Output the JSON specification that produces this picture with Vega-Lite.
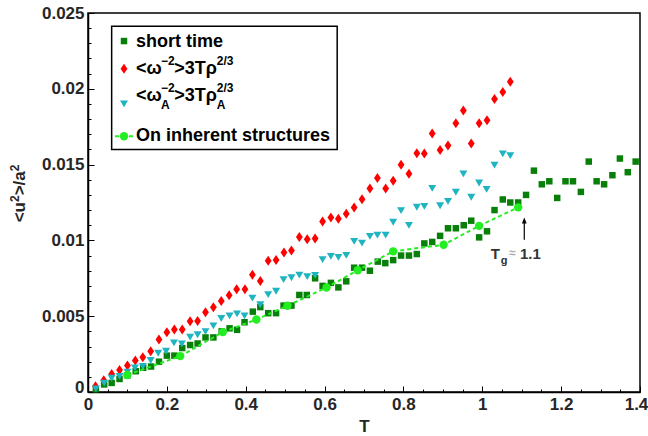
{
  "$schema": "https://vega.github.io/schema/vega-lite/v6.json",
  "width": 552,
  "height": 379,
  "autosize": {"type": "none"},
  "padding": {"left": 88, "top": 13, "right": 8, "bottom": 44},
  "background": "white",
  "config": {
    "view": {"stroke": "#000000", "strokeWidth": 1.5},
    "axis": {
      "domainColor": "#000000", "domainWidth": 1.5,
      "tickColor": "#000000", "tickWidth": 1,
      "labelFont": "Liberation Sans", "labelFontWeight": "bold", "labelFontSize": 17, "labelColor": "#262626",
      "titleFont": "Liberation Sans", "titleFontWeight": "bold", "titleFontSize": 17, "titleColor": "#262626",
      "grid": false
    }
  },
  "datasets": {
    "short": [
      {"T":0.020,"u2":0.00018},{"T":0.041,"u2":0.0005},{"T":0.060,"u2":0.0006},{"T":0.080,"u2":0.00086},{"T":0.100,"u2":0.0011},
      {"T":0.121,"u2":0.00137},{"T":0.140,"u2":0.0016},{"T":0.160,"u2":0.00168},{"T":0.180,"u2":0.0020},{"T":0.200,"u2":0.0024},
      {"T":0.219,"u2":0.0024},{"T":0.239,"u2":0.0029},{"T":0.259,"u2":0.0031},{"T":0.278,"u2":0.0032},{"T":0.298,"u2":0.0036},
      {"T":0.318,"u2":0.0036},{"T":0.339,"u2":0.0040},{"T":0.359,"u2":0.0042},{"T":0.378,"u2":0.0041},{"T":0.397,"u2":0.0046},
      {"T":0.418,"u2":0.0053},{"T":0.437,"u2":0.0056},{"T":0.457,"u2":0.0052},{"T":0.477,"u2":0.0052},{"T":0.496,"u2":0.0057},
      {"T":0.516,"u2":0.0057},{"T":0.536,"u2":0.0064},{"T":0.555,"u2":0.0064},{"T":0.576,"u2":0.0075},{"T":0.595,"u2":0.0070},
      {"T":0.616,"u2":0.0072},{"T":0.635,"u2":0.0069},{"T":0.655,"u2":0.0073},{"T":0.675,"u2":0.0082},{"T":0.695,"u2":0.0082},
      {"T":0.715,"u2":0.0080},{"T":0.735,"u2":0.0086},{"T":0.754,"u2":0.0085},{"T":0.774,"u2":0.0087},{"T":0.794,"u2":0.0090},
      {"T":0.814,"u2":0.0090},{"T":0.834,"u2":0.0091},{"T":0.853,"u2":0.0098},{"T":0.873,"u2":0.0099},{"T":0.893,"u2":0.0103},
      {"T":0.913,"u2":0.0108},{"T":0.933,"u2":0.0108},{"T":0.953,"u2":0.0110},{"T":0.972,"u2":0.0113},{"T":0.992,"u2":0.0102},
      {"T":1.012,"u2":0.0106},{"T":1.031,"u2":0.0120},{"T":1.052,"u2":0.0127},{"T":1.071,"u2":0.0125},{"T":1.091,"u2":0.0125},
      {"T":1.111,"u2":0.0130},{"T":1.131,"u2":0.0146},{"T":1.151,"u2":0.0137},{"T":1.170,"u2":0.0139},{"T":1.190,"u2":0.0128},
      {"T":1.211,"u2":0.0139},{"T":1.230,"u2":0.0139},{"T":1.250,"u2":0.0132},{"T":1.270,"u2":0.0152},{"T":1.290,"u2":0.0139},
      {"T":1.309,"u2":0.0137},{"T":1.330,"u2":0.0143},{"T":1.349,"u2":0.0154},{"T":1.369,"u2":0.0145},{"T":1.389,"u2":0.0152}
    ],
    "omega": [
      {"T":0.019,"u2":0.00038},{"T":0.040,"u2":0.00077},{"T":0.060,"u2":0.00118},{"T":0.080,"u2":0.00145},{"T":0.100,"u2":0.00174},
      {"T":0.120,"u2":0.00208},{"T":0.139,"u2":0.0023},{"T":0.159,"u2":0.00268},{"T":0.180,"u2":0.00346},{"T":0.200,"u2":0.00394},
      {"T":0.219,"u2":0.00412},{"T":0.239,"u2":0.00412},{"T":0.259,"u2":0.00466},{"T":0.278,"u2":0.00468},{"T":0.298,"u2":0.00526},
      {"T":0.318,"u2":0.00559},{"T":0.338,"u2":0.0060},{"T":0.358,"u2":0.00638},{"T":0.377,"u2":0.00677},{"T":0.398,"u2":0.00677},
      {"T":0.417,"u2":0.00773},{"T":0.437,"u2":0.00732},{"T":0.457,"u2":0.00865},{"T":0.477,"u2":0.0087},{"T":0.497,"u2":0.0092},
      {"T":0.516,"u2":0.00933},{"T":0.536,"u2":0.01022},{"T":0.556,"u2":0.01007},{"T":0.576,"u2":0.01012},{"T":0.595,"u2":0.01124},
      {"T":0.616,"u2":0.01151},{"T":0.635,"u2":0.01143},{"T":0.655,"u2":0.01175},{"T":0.675,"u2":0.01217},{"T":0.695,"u2":0.01271},
      {"T":0.715,"u2":0.01342},{"T":0.734,"u2":0.01412},{"T":0.755,"u2":0.01342},{"T":0.774,"u2":0.01393},{"T":0.794,"u2":0.01499},
      {"T":0.814,"u2":0.01439},{"T":0.834,"u2":0.01575},{"T":0.853,"u2":0.01573},{"T":0.873,"u2":0.01705},{"T":0.893,"u2":0.01596},
      {"T":0.913,"u2":0.01626},{"T":0.933,"u2":0.01772},{"T":0.952,"u2":0.01857},{"T":0.972,"u2":0.0164},{"T":0.992,"u2":0.01772},
      {"T":1.012,"u2":0.01792},{"T":1.031,"u2":0.01933},{"T":1.052,"u2":0.01979},{"T":1.071,"u2":0.02047}
    ],
    "omegaA": [
      {"T":0.020,"u2":0.00022},{"T":0.041,"u2":0.0006},{"T":0.060,"u2":0.00092},{"T":0.080,"u2":0.00104},{"T":0.100,"u2":0.00132},
      {"T":0.119,"u2":0.00161},{"T":0.139,"u2":0.0017},{"T":0.159,"u2":0.00209},{"T":0.178,"u2":0.00257},{"T":0.198,"u2":0.0027},
      {"T":0.218,"u2":0.00326},{"T":0.238,"u2":0.00319},{"T":0.259,"u2":0.00363},{"T":0.278,"u2":0.00379},{"T":0.298,"u2":0.00399},
      {"T":0.318,"u2":0.00437},{"T":0.338,"u2":0.00486},{"T":0.359,"u2":0.00504},{"T":0.378,"u2":0.00517},{"T":0.397,"u2":0.00504},
      {"T":0.417,"u2":0.0062},{"T":0.437,"u2":0.00577},{"T":0.457,"u2":0.00644},{"T":0.477,"u2":0.00666},{"T":0.496,"u2":0.00743},
      {"T":0.516,"u2":0.00755},{"T":0.536,"u2":0.00772},{"T":0.556,"u2":0.00763},{"T":0.576,"u2":0.0077},{"T":0.595,"u2":0.00874},
      {"T":0.616,"u2":0.00896},{"T":0.635,"u2":0.0089},{"T":0.655,"u2":0.00902},{"T":0.675,"u2":0.00995},{"T":0.695,"u2":0.00983},
      {"T":0.715,"u2":0.01028},{"T":0.734,"u2":0.01036},{"T":0.755,"u2":0.01036},{"T":0.774,"u2":0.01121},{"T":0.794,"u2":0.01198},
      {"T":0.814,"u2":0.011},{"T":0.834,"u2":0.0122},{"T":0.853,"u2":0.01226},{"T":0.873,"u2":0.01345},{"T":0.893,"u2":0.0123},
      {"T":0.913,"u2":0.01259},{"T":0.933,"u2":0.01319},{"T":0.952,"u2":0.0144},{"T":0.972,"u2":0.01286},{"T":0.992,"u2":0.0138},
      {"T":1.011,"u2":0.01338},{"T":1.031,"u2":0.01498},{"T":1.052,"u2":0.01572},{"T":1.071,"u2":0.01561}
    ],
    "inherent": [
      {"T":0.0997,"u2":0.00112},{"T":0.234,"u2":0.00237},{"T":0.342,"u2":0.00395},{"T":0.427,"u2":0.00478},{"T":0.506,"u2":0.00569},
      {"T":0.605,"u2":0.00689},{"T":0.684,"u2":0.00803},{"T":0.774,"u2":0.00928},{"T":0.902,"u2":0.00971},{"T":0.992,"u2":0.01096},
      {"T":1.091,"u2":0.01218}
    ],
    "legendBox": [{"x1":0.060,"x2":0.632,"y1":0.01599,"y2":0.02412}],
    "legSquare": [{"T":0.0913,"u2":0.02315}],
    "legDiamond": [{"T":0.0913,"u2":0.02133}],
    "legTriangle": [{"T":0.0913,"u2":0.01902}],
    "legCircle": [{"T":0.0913,"u2":0.01687}],
    "legLine": [{"x1":0.0685,"x2":0.1141,"u2":0.01687}],
    "legendMain": [
      {"T":0.1217,"u2":0.02276,"text":"short time"},
      {"T":0.1217,"u2":0.0210,"text":"<ω"},
      {"T":0.2185,"u2":0.0210,"text":">3Tρ"},
      {"T":0.1217,"u2":0.0192,"text":"<ω"},
      {"T":0.2185,"u2":0.0192,"text":">3Tρ"},
      {"T":0.1217,"u2":0.01656,"text":"On inherent structures"}
    ],
    "legendScript": [
      {"T":0.1851,"u2":0.02155,"text":"−2"},
      {"T":0.3265,"u2":0.02155,"text":"2/3"},
      {"T":0.1851,"u2":0.01982,"text":"−2"},
      {"T":0.1851,"u2":0.01869,"text":"A"},
      {"T":0.3265,"u2":0.01982,"text":"2/3"},
      {"T":0.3265,"u2":0.01869,"text":"A"}
    ],
    "ytitleMain": [
      {"T":-0.1598,"u2":0.01119,"text":"<u"},
      {"T":-0.1598,"u2":0.01297,"text":">/a"}
    ],
    "ytitleSup": [
      {"T":-0.175,"u2":0.01253,"text":"2"},
      {"T":-0.175,"u2":0.01456,"text":"2"}
    ],
    "arrow": [{"T":1.1065,"y1":0.01005,"y2":0.0112}],
    "arrowHead": [{"T":1.1065,"u2":0.01131}],
    "annMain": [{"T":1.0213,"u2":0.0088,"text":"T"},{"T":1.0956,"u2":0.0088,"text":"1.1"}],
    "annSub": [{"T":1.0467,"u2":0.00847,"text":"g"}],
    "annApprox": [{"T":1.0685,"u2":0.0089,"text":"≈"}]
  },
  "layer": [
    {
      "data": {"name": "short"},
      "mark": {"type": "point", "shape": "square", "filled": true, "size": 42, "color": "#087f08", "opacity": 1},
      "encoding": {
        "x": {"field": "T", "type": "quantitative",
          "scale": {"domain": [0, 1.4], "nice": false, "zero": false},
          "axis": {"orient": "bottom", "title": "T", "titlePadding": 6, "format": "~g",
            "values": [0,0.05,0.1,0.15,0.2,0.25,0.3,0.35,0.4,0.45,0.5,0.55,0.6,0.65,0.7,0.75,0.8,0.85,0.9,0.95,1,1.05,1.1,1.15,1.2,1.25,1.3,1.35,1.4],
            "labelExpr": "abs(datum.value*5 - round(datum.value*5)) < 1e-6 ? datum.label : ''",
            "tickSize": {"condition": {"test": "abs(datum.value*5 - round(datum.value*5)) < 1e-6", "value": -6}, "value": -3},
            "labelOffset": {"condition": {"test": "datum.value > 1.39", "value": -4}, "value": 0},
            "labelPadding": 10, "labelFlush": false}},
        "y": {"field": "u2", "type": "quantitative",
          "scale": {"domain": [0, 0.025], "nice": false, "zero": false},
          "axis": {"orient": "left", "title": null, "format": "~g",
            "values": [0,0.001,0.002,0.003,0.004,0.005,0.006,0.007,0.008,0.009,0.01,0.011,0.012,0.013,0.014,0.015,0.016,0.017,0.018,0.019,0.02,0.021,0.022,0.023,0.024,0.025],
            "labelExpr": "abs(datum.value*200 - round(datum.value*200)) < 1e-6 ? datum.label : ''",
            "tickSize": {"condition": {"test": "abs(datum.value*200 - round(datum.value*200)) < 1e-6", "value": -6}, "value": -3},
            "labelPadding": 10, "labelFlush": false,
            "labelBaseline": {"condition": {"test": "datum.value == 0", "value": "alphabetic"}, "value": "middle"}}}
      }
    },
    {
      "data": {"name": "omega"},
      "mark": {"type": "point", "shape": "M0,-1L0.68,0L0,1L-0.68,0Z", "filled": true, "size": 100, "color": "#ff0000", "opacity": 1},
      "encoding": {"x": {"field": "T", "type": "quantitative", "axis": null}, "y": {"field": "u2", "type": "quantitative", "axis": null}}
    },
    {
      "data": {"name": "omegaA"},
      "mark": {"type": "point", "shape": "M-1,-0.8L1,-0.8L0,0.9Z", "filled": true, "size": 64, "color": "#1eb4c0", "opacity": 1},
      "encoding": {"x": {"field": "T", "type": "quantitative", "axis": null}, "y": {"field": "u2", "type": "quantitative", "axis": null}}
    },
    {
      "data": {"name": "inherent"},
      "mark": {"type": "line", "color": "#22ee22", "strokeDash": [4, 3], "strokeWidth": 2},
      "encoding": {"x": {"field": "T", "type": "quantitative", "axis": null}, "y": {"field": "u2", "type": "quantitative", "axis": null}}
    },
    {
      "data": {"name": "inherent"},
      "mark": {"type": "point", "shape": "circle", "filled": true, "size": 70, "color": "#22ee22", "opacity": 1},
      "encoding": {"x": {"field": "T", "type": "quantitative", "axis": null}, "y": {"field": "u2", "type": "quantitative", "axis": null}}
    },
    {
      "data": {"name": "legendBox"},
      "mark": {"type": "rect", "fill": "white", "stroke": "black", "strokeWidth": 1.5},
      "encoding": {
        "x": {"field": "x1", "type": "quantitative", "axis": null}, "x2": {"field": "x2"},
        "y": {"field": "y1", "type": "quantitative", "axis": null}, "y2": {"field": "y2"}
      }
    },
    {
      "data": {"name": "legSquare"},
      "mark": {"type": "point", "shape": "square", "filled": true, "size": 42, "color": "#087f08", "opacity": 1},
      "encoding": {"x": {"field": "T", "type": "quantitative", "axis": null}, "y": {"field": "u2", "type": "quantitative", "axis": null}}
    },
    {
      "data": {"name": "legDiamond"},
      "mark": {"type": "point", "shape": "M0,-1L0.68,0L0,1L-0.68,0Z", "filled": true, "size": 100, "color": "#ff0000", "opacity": 1},
      "encoding": {"x": {"field": "T", "type": "quantitative", "axis": null}, "y": {"field": "u2", "type": "quantitative", "axis": null}}
    },
    {
      "data": {"name": "legTriangle"},
      "mark": {"type": "point", "shape": "M-1,-0.8L1,-0.8L0,0.9Z", "filled": true, "size": 64, "color": "#1eb4c0", "opacity": 1},
      "encoding": {"x": {"field": "T", "type": "quantitative", "axis": null}, "y": {"field": "u2", "type": "quantitative", "axis": null}}
    },
    {
      "data": {"name": "legLine"},
      "mark": {"type": "rule", "color": "#22ee22", "strokeDash": [4, 3], "strokeWidth": 2},
      "encoding": {
        "x": {"field": "x1", "type": "quantitative", "axis": null}, "x2": {"field": "x2"},
        "y": {"field": "u2", "type": "quantitative", "axis": null}
      }
    },
    {
      "data": {"name": "legCircle"},
      "mark": {"type": "point", "shape": "circle", "filled": true, "size": 70, "color": "#22ee22", "opacity": 1},
      "encoding": {"x": {"field": "T", "type": "quantitative", "axis": null}, "y": {"field": "u2", "type": "quantitative", "axis": null}}
    },
    {
      "data": {"name": "legendMain"},
      "mark": {"type": "text", "align": "left", "baseline": "alphabetic", "font": "Liberation Sans", "fontWeight": "bold", "fontSize": 18, "color": "#000000"},
      "encoding": {"x": {"field": "T", "type": "quantitative", "axis": null}, "y": {"field": "u2", "type": "quantitative", "axis": null}, "text": {"field": "text"}}
    },
    {
      "data": {"name": "legendScript"},
      "mark": {"type": "text", "align": "left", "baseline": "alphabetic", "font": "Liberation Sans", "fontWeight": "bold", "fontSize": 12, "color": "#000000"},
      "encoding": {"x": {"field": "T", "type": "quantitative", "axis": null}, "y": {"field": "u2", "type": "quantitative", "axis": null}, "text": {"field": "text"}}
    },
    {
      "data": {"name": "ytitleMain"},
      "mark": {"type": "text", "align": "left", "baseline": "alphabetic", "angle": 270, "font": "Liberation Sans", "fontWeight": "bold", "fontSize": 17, "color": "#262626"},
      "encoding": {"x": {"field": "T", "type": "quantitative", "axis": null}, "y": {"field": "u2", "type": "quantitative", "axis": null}, "text": {"field": "text"}}
    },
    {
      "data": {"name": "ytitleSup"},
      "mark": {"type": "text", "align": "left", "baseline": "alphabetic", "angle": 270, "font": "Liberation Sans", "fontWeight": "bold", "fontSize": 12, "color": "#262626"},
      "encoding": {"x": {"field": "T", "type": "quantitative", "axis": null}, "y": {"field": "u2", "type": "quantitative", "axis": null}, "text": {"field": "text"}}
    },
    {
      "data": {"name": "arrow"},
      "mark": {"type": "rule", "color": "#000000", "strokeWidth": 1.2},
      "encoding": {
        "x": {"field": "T", "type": "quantitative", "axis": null},
        "y": {"field": "y1", "type": "quantitative", "axis": null}, "y2": {"field": "y2"}
      }
    },
    {
      "data": {"name": "arrowHead"},
      "mark": {"type": "point", "shape": "M0,-1L0.8,1L-0.8,1Z", "filled": true, "size": 36, "color": "#000000", "opacity": 1},
      "encoding": {"x": {"field": "T", "type": "quantitative", "axis": null}, "y": {"field": "u2", "type": "quantitative", "axis": null}}
    },
    {
      "data": {"name": "annMain"},
      "mark": {"type": "text", "align": "left", "baseline": "alphabetic", "font": "Liberation Sans", "fontWeight": "bold", "fontSize": 15, "color": "#333333"},
      "encoding": {"x": {"field": "T", "type": "quantitative", "axis": null}, "y": {"field": "u2", "type": "quantitative", "axis": null}, "text": {"field": "text"}}
    },
    {
      "data": {"name": "annSub"},
      "mark": {"type": "text", "align": "left", "baseline": "alphabetic", "font": "Liberation Sans", "fontWeight": "bold", "fontSize": 11, "color": "#333333"},
      "encoding": {"x": {"field": "T", "type": "quantitative", "axis": null}, "y": {"field": "u2", "type": "quantitative", "axis": null}, "text": {"field": "text"}}
    },
    {
      "data": {"name": "annApprox"},
      "mark": {"type": "text", "align": "left", "baseline": "alphabetic", "font": "Liberation Sans", "fontWeight": "bold", "fontSize": 12, "color": "#aaaaaa"},
      "encoding": {"x": {"field": "T", "type": "quantitative", "axis": null}, "y": {"field": "u2", "type": "quantitative", "axis": null}, "text": {"field": "text"}}
    }
  ],
  "resolve": {"axis": {"x": "independent", "y": "independent"}}
}
